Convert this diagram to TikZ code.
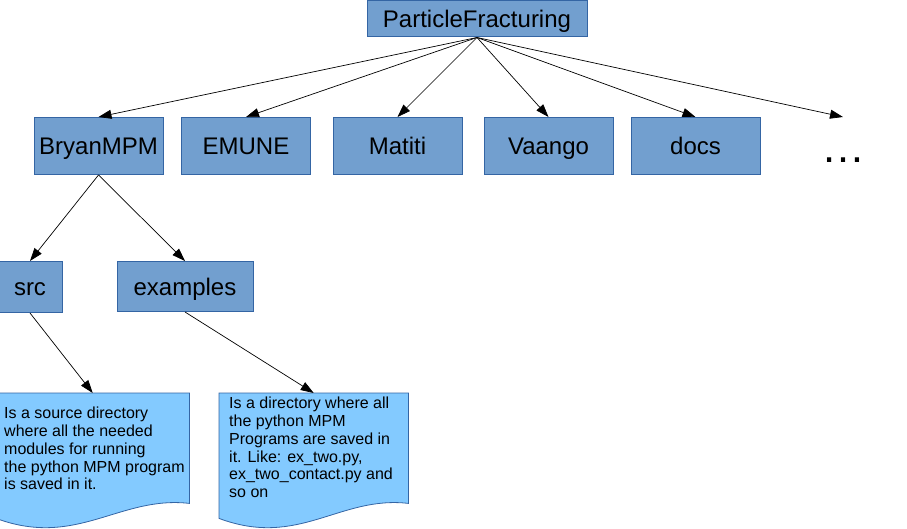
\documentclass[tikz,border=0pt]{standalone}
\usepackage{fontspec}
\setmainfont{Liberation Sans}
\usetikzlibrary{arrows.meta}
\definecolor{boxblue}{HTML}{729FCF}
\definecolor{edgeblue}{HTML}{3465A4}
\definecolor{noteblue}{HTML}{83CAFF}
\begin{document}
\begin{tikzpicture}[x=1pt,y=-1pt,
  dirbox/.style={draw=edgeblue, fill=boxblue, line width=1pt, inner sep=0pt,
    font=\fontsize{24}{28}\selectfont, text height=17pt, text depth=0pt},
  notetext/.style={anchor=north west, inner sep=0pt, align=left,
    font=\fontsize{16}{17.8}\selectfont},
  notefill/.style={draw=edgeblue, fill=noteblue, line width=0.8pt},
  link/.style={-{Triangle[length=13pt,width=9pt]}, line width=0.7pt}]
\useasboundingbox (0,0) rectangle (907,529);
\node[dirbox, minimum width=220, minimum height=36] (pf) at (477,19) {ParticleFracturing};
\node[dirbox, minimum width=129, minimum height=57] (bryan) at (98.5,146) {BryanMPM};
\node[dirbox, minimum width=129, minimum height=57] (emune) at (246,146) {EMUNE};
\node[dirbox, minimum width=129, minimum height=57] (matiti) at (397.5,146) {Matiti};
\node[dirbox, minimum width=129, minimum height=57] (vaango) at (548.5,146) {Vaango};
\node[dirbox, minimum width=129, minimum height=57] (docs) at (695.5,146) {docs};
\coordinate (moretip) at (843,117);
\node[inner sep=0pt, anchor=base, font=\fontsize{44}{44}\selectfont] (more) at (843,163) {…};
\node[dirbox, minimum width=64, minimum height=51] (src) at (30,287) {src};
\node[dirbox, minimum width=136, minimum height=50] (examples) at (185,286.5) {examples};
\node[minimum width=193, minimum height=110, inner sep=0pt, anchor=north west] (srcnote) at (-4,393) {};
\draw[notefill] (srcnote.north west) -- (srcnote.north east) -- (srcnote.south east)
  .. controls +(-70,-8) and +(81,30) .. ([yshift=-15pt]srcnote.south west) -- cycle;
\node[notetext] (srctext) at (4,407) {Is a source directory\\where all the needed\\modules for running\\the python MPM program\\is saved in it.};
\node[minimum width=189, minimum height=110, inner sep=0pt, anchor=north west] (exnote) at (219,393) {};
\draw[notefill] (exnote.north west) -- (exnote.north east) -- (exnote.south east)
  .. controls +(-69,-8) and +(80,30) .. ([yshift=-15pt]exnote.south west) -- cycle;
\node[notetext] (extext) at (229,397) {Is a directory where all\\the python MPM\\Programs are saved in\\it. Like: ex\_two.py,\\ex\_two\_contact.py and\\so on};
\foreach \n in {bryan,emune,matiti,vaango,docs}
  \draw[link] (pf.south) -- (\n.north);
\draw[link] (pf.south) -- (moretip);
\draw[link] (bryan.south) -- (src.north);
\draw[link] (bryan.south) -- (examples.north);
\draw[link] (src.south) -- (srcnote.north);
\draw[link] (examples.south) -- (exnote.north);
\end{tikzpicture}
\end{document}
